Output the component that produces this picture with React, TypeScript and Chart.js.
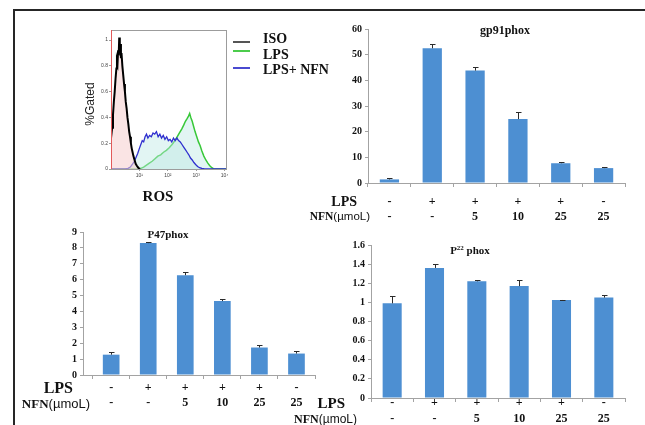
import React, { useEffect, useRef } from 'react';
import { Chart, registerables } from 'chart.js';
Chart.register(...registerables);

// ---------- data ----------
const lpsRow = ['-', '+', '+', '+', '+', '-'];
const nfnRow = ['-', '-', '5', '10', '25', '25'];

const gp91Values = [1.4, 52.5, 43.8, 24.9, 7.7, 5.8];
const gp91Errors = [0.5, 1.6, 1.3, 2.6, 0.4, 0.3];
const p47Values = [1.28, 8.3, 6.28, 4.65, 1.73, 1.35];
const p47Errors = [0.14, 0.08, 0.2, 0.14, 0.14, 0.17];
const p22Values = [0.99, 1.36, 1.22, 1.17, 1.025, 1.05];
const p22Errors = [0.08, 0.04, 0.015, 0.06, 0.005, 0.025];

const histSeries = ['ISO', 'LPS', 'LPS+ NFN'];
const histXTicks = [1, 2, 3, 4];
const histXTickLabels = ['10¹', '10²', '10³', '10⁴'];
const histYTicks = [0, 0.2, 0.4, 0.6, 0.8, 1];

// log10(ROS) and %Gated for each curve
const isoLog = [0.0, 0.04, 0.07, 0.1, 0.13, 0.16, 0.19, 0.21, 0.23, 0.25, 0.27, 0.29, 0.31, 0.33, 0.35, 0.37, 0.4, 0.43, 0.46, 0.49, 0.52, 0.55, 0.58, 0.61, 0.64, 0.67, 0.7, 0.73, 0.76, 0.79, 0.83, 0.87, 0.91, 0.96, 1.02];
const isoGated = [0.24, 0.32, 0.42, 0.52, 0.6, 0.7, 0.78, 0.84, 0.82, 0.92, 0.88, 1.02, 0.93, 0.97, 0.86, 0.9, 0.8, 0.73, 0.66, 0.6, 0.52, 0.47, 0.4, 0.35, 0.29, 0.25, 0.2, 0.16, 0.13, 0.1, 0.07, 0.04, 0.025, 0.01, 0.0];

const lpsLog = [0.0, 0.95, 1.05, 1.15, 1.25, 1.35, 1.45, 1.55, 1.65, 1.75, 1.85, 1.95, 2.05, 2.15, 2.25, 2.33, 2.41, 2.49, 2.56, 2.62, 2.68, 2.73, 2.77, 2.81, 2.86, 2.91, 2.96, 3.02, 3.08, 3.14, 3.2, 3.27, 3.34, 3.41, 3.48, 3.55, 3.62, 4.05];
const lpsGated = [0.0, 0.0, 0.005, 0.015, 0.03, 0.045, 0.06, 0.08, 0.1, 0.11, 0.13, 0.145, 0.165, 0.19, 0.22, 0.25, 0.28, 0.31, 0.34, 0.37, 0.39, 0.41, 0.43, 0.4, 0.37, 0.33, 0.29, 0.25, 0.21, 0.18, 0.14, 0.1, 0.07, 0.045, 0.025, 0.01, 0.0, 0.0];

const nfnLog = [0.0, 0.5, 0.6, 0.68, 0.75, 0.82, 0.88, 0.94, 1.0, 1.05, 1.1, 1.15, 1.2, 1.25, 1.3, 1.36, 1.42, 1.48, 1.54, 1.6, 1.66, 1.72, 1.78, 1.84, 1.9, 1.96, 2.02, 2.08, 2.14, 2.2, 2.26, 2.32, 2.38, 2.44, 2.5, 2.56, 2.62, 2.68, 2.74, 2.8, 2.86, 2.92, 2.98, 3.05, 3.12, 3.2, 3.3, 4.05];
const nfnGated = [0.0, 0.0, 0.005, 0.015, 0.035, 0.06, 0.09, 0.12, 0.16, 0.19, 0.22, 0.21, 0.25, 0.27, 0.24, 0.26, 0.25, 0.28, 0.27, 0.29, 0.25, 0.27, 0.24, 0.26, 0.23, 0.25, 0.22, 0.23, 0.21, 0.24, 0.22, 0.24, 0.22, 0.21, 0.19, 0.17, 0.15, 0.13, 0.11, 0.085, 0.07, 0.05, 0.035, 0.02, 0.01, 0.004, 0.0, 0.0];

// ---------- styles ----------
const SERIF = "'Liberation Serif', 'Times New Roman', serif";
const SANS = "'Liberation Sans', Arial, sans-serif";
const BAR = '#4d8fd2';
const AXIS = '#a3a3a3';

const fmt = (v: any) => String(Math.round(Number(v) * 100) / 100);

function fixY(width: number) {
  return (s: any) => {
    s.width = width;
    s.paddingTop = 0; s.paddingBottom = 0; s.paddingLeft = 0; s.paddingRight = 0;
  };
}
function fixX(height: number) {
  return (s: any) => {
    s.height = height;
    s.paddingTop = 0; s.paddingBottom = 0; s.paddingLeft = 0; s.paddingRight = 0;
  };
}

type Box = { left: number; top: number; width: number; height: number };

type BarProps = {
  values: number[]; errors: number[]; yMax: number; yStep: number; xMin: number;
  box: Box; padTop: number; padRight: number; yWidth: number; xHeight: number;
  tickPad: number; lineH: number;
};

function BarPanel(p: BarProps) {
  const ref = useRef<HTMLCanvasElement>(null);
  useEffect(() => {
    const errPlugin = {
      id: 'errbars',
      afterDatasetsDraw(chart: any) {
        const ctx = chart.ctx;
        const meta = chart.getDatasetMeta(0);
        const ys = chart.scales.y;
        ctx.save();
        ctx.strokeStyle = '#2b2b2b';
        ctx.lineWidth = 1;
        meta.data.forEach((bar: any, i: number) => {
          const x = Math.round(bar.x) + 0.5;
          const yTop = Math.round(ys.getPixelForValue(p.values[i] + p.errors[i])) + 0.5;
          ctx.beginPath();
          ctx.moveTo(x, bar.y);
          ctx.lineTo(x, yTop);
          ctx.moveTo(x - 2.5, yTop);
          ctx.lineTo(x + 3, yTop);
          ctx.stroke();
        });
        ctx.restore();
      },
    };
    const chart = new Chart(ref.current as HTMLCanvasElement, {
      type: 'bar',
      data: {
        datasets: [{
          data: p.values.map((v, i) => ({ x: i, y: v })),
          backgroundColor: BAR,
          borderWidth: 0,
          barPercentage: 0.45,
          categoryPercentage: 1,
        }],
      },
      options: {
        responsive: false,
        animation: false,
        devicePixelRatio: 1,
        layout: { padding: { top: p.padTop, right: p.padRight, left: 0, bottom: 0 } },
        plugins: { legend: { display: false }, tooltip: { enabled: false } },
        scales: {
          x: {
            type: 'linear',
            offset: false,
            min: p.xMin,
            max: 5.5,
            afterBuildTicks: (s: any) => { s.ticks = lpsRow.map((_, i) => ({ value: i })); },
            ticks: {
              autoSkip: false, maxRotation: 0, minRotation: 0,
              padding: p.tickPad, color: '#111',
              font: { family: SERIF, weight: 'bold', size: 12, lineHeight: p.lineH },
              callback: (v: any) => [lpsRow[Number(v)], nfnRow[Number(v)]],
            },
            grid: { offset: true, drawOnChartArea: false, tickLength: 4, color: AXIS },
            border: { color: AXIS },
            afterFit: fixX(p.xHeight),
          },
          y: {
            min: 0,
            max: p.yMax,
            ticks: { stepSize: p.yStep, padding: 3, color: '#111', font: { family: SERIF, weight: 'bold', size: 10 }, callback: fmt },
            grid: { drawOnChartArea: false, tickLength: 3, color: AXIS },
            border: { color: AXIS },
            afterFit: fixY(p.yWidth),
          },
        },
      } as any,
      plugins: [errPlugin],
    });
    return () => chart.destroy();
  }, []);
  return (
    <canvas ref={ref} width={p.box.width} height={p.box.height}
      style={{ position: 'absolute', left: p.box.left, top: p.box.top, width: p.box.width, height: p.box.height }} />
  );
}

function Histogram() {
  const ref = useRef<HTMLCanvasElement>(null);
  useEffect(() => {
    const boxPlugin = {
      id: 'plotbox',
      afterDraw(chart: any) {
        const { left, top, right, bottom } = chart.chartArea;
        const ctx = chart.ctx;
        ctx.save();
        ctx.strokeStyle = '#9c9c9c';
        ctx.lineWidth = 1;
        ctx.strokeRect(Math.round(left) + 0.5, Math.round(top) + 0.5, Math.round(right - left), Math.round(bottom - top));
        ctx.strokeStyle = '#e25a5a';
        ctx.beginPath();
        ctx.moveTo(Math.round(left) + 0.5, top);
        ctx.lineTo(Math.round(left) + 0.5, bottom);
        ctx.stroke();
        ctx.restore();
      },
    };
    const zip = (xs: number[], ys: number[]) => xs.map((x, i) => ({ x, y: ys[i] }));
    const chart = new Chart(ref.current as HTMLCanvasElement, {
      type: 'line',
      data: {
        datasets: [
          { label: histSeries[0], data: zip(isoLog, isoGated), borderColor: '#000', borderWidth: 2, backgroundColor: 'rgba(246,205,205,0.55)', fill: 'origin', pointRadius: 0, tension: 0 },
          { label: histSeries[2], data: zip(nfnLog, nfnGated), borderColor: '#2f2fcf', borderWidth: 1.3, backgroundColor: 'rgba(190,232,228,0.45)', fill: 'origin', pointRadius: 0, tension: 0 },
          { label: histSeries[1], data: zip(lpsLog, lpsGated), borderColor: '#38c838', borderWidth: 1.5, backgroundColor: 'rgba(190,232,228,0.45)', fill: 'origin', pointRadius: 0, tension: 0 },
        ],
      },
      options: {
        responsive: false,
        animation: false,
        devicePixelRatio: 1,
        layout: { padding: { top: 10, right: 9, left: 0, bottom: 0 } },
        plugins: { legend: { display: false }, tooltip: { enabled: false } },
        scales: {
          x: {
            type: 'linear', min: 0, max: 4.05,
            afterBuildTicks: (s: any) => { s.ticks = histXTicks.map((v) => ({ value: v })); },
            ticks: {
              padding: 2, color: '#444', maxRotation: 0, autoSkip: false,
              font: { family: SANS, size: 5 },
              callback: (v: any) => histXTickLabels[histXTicks.indexOf(Number(v))],
            },
            grid: { drawOnChartArea: false, tickLength: 2, color: '#9c9c9c' },
            border: { color: '#9c9c9c' },
            afterFit: fixX(21),
          },
          y: {
            min: 0, max: 1.078,
            afterBuildTicks: (s: any) => { s.ticks = histYTicks.map((v) => ({ value: v })); },
            ticks: { padding: 1, color: '#444', font: { family: SANS, size: 5 }, callback: fmt },
            grid: { drawOnChartArea: false, tickLength: 2, color: '#9c9c9c' },
            border: { color: '#9c9c9c' },
            afterFit: fixY(16),
          },
        },
      } as any,
      plugins: [boxPlugin],
    });
    return () => chart.destroy();
  }, []);
  return (
    <canvas ref={ref} width={140} height={170}
      style={{ position: 'absolute', left: 95, top: 20, width: 140, height: 170 }} />
  );
}

function Txt(props: { x: number; y: number; size: number; children: any; align?: 'center' | 'right'; family?: string; weight?: string }) {
  const { x, y, size, align = 'center', family = SERIF, weight = 'bold' } = props;
  const style: any = {
    position: 'absolute', top: y, fontFamily: family, fontWeight: weight, fontSize: size,
    lineHeight: 1, whiteSpace: 'nowrap', color: '#111',
  };
  if (align === 'center') { style.left = x; style.transform = 'translate(-50%, -50%)'; }
  else { style.right = 645 - x; style.transform = 'translateY(-50%)'; }
  return <div style={style}>{props.children}</div>;
}

function NfnLabel(props: { x: number; y: number; size: number }) {
  return (
    <Txt x={props.x} y={props.y} size={props.size} align="right">
      NFN<span style={{ fontFamily: SANS, fontWeight: 'normal' }}>(µmoL)</span>
    </Txt>
  );
}

const legendColors = ['#555555', '#4ccc4c', '#4a4ad0'];
const legendTextY = [39, 55, 70];
const legendLineY = [41, 50, 67];

export default function App() {
  return (
    <div style={{ position: 'fixed', left: 0, top: 0, width: 645, height: 425, background: '#fff', overflow: 'hidden' }}>
      <div style={{ position: 'absolute', left: 13, top: 9, width: 700, height: 500, border: '2px solid #262626', boxSizing: 'border-box' }} />

      <Histogram />
      <div style={{ position: 'absolute', left: 90, top: 104, transform: 'translate(-50%, -50%) rotate(-90deg)', fontFamily: SANS, fontSize: 12, color: '#222', whiteSpace: 'nowrap' }}>%Gated</div>
      <Txt x={158} y={196} size={15}>ROS</Txt>
      {histSeries.map((s, i) => (
        <React.Fragment key={s}>
          <div style={{ position: 'absolute', left: 233, top: legendLineY[i], width: 17, height: 1.5, background: legendColors[i] }} />
          <div style={{ position: 'absolute', left: 263, top: legendTextY[i], transform: 'translateY(-50%)', fontFamily: SERIF, fontWeight: 'bold', fontSize: 14, lineHeight: 1, color: '#111', whiteSpace: 'nowrap' }}>{s}</div>
        </React.Fragment>
      ))}

      <BarPanel values={gp91Values} errors={gp91Errors} yMax={60} yStep={10} xMin={-0.5}
        box={{ left: 320, top: 15, width: 310, height: 215 }} padTop={14} padRight={5}
        yWidth={48} xHeight={47} tickPad={7.5} lineH={1.25} />
      <Txt x={505} y={30} size={12}>gp91phox</Txt>
      <Txt x={357} y={202} size={14} align="right">LPS</Txt>
      <NfnLabel x={370} y={217} size={11.5} />

      <BarPanel values={p47Values} errors={p47Errors} yMax={9} yStep={1} xMin={-0.76}
        box={{ left: 20, top: 222, width: 300, height: 200 }} padTop={10} padRight={5}
        yWidth={63} xHeight={47} tickPad={1.5} lineH={1.25} />
      <Txt x={168} y={234} size={11}>P47phox</Txt>
      <Txt x={73} y={388} size={16} align="right">LPS</Txt>
      <NfnLabel x={90} y={403} size={13} />

      <BarPanel values={p22Values} errors={p22Errors} yMax={1.6} yStep={0.2} xMin={-0.5}
        box={{ left: 330, top: 235, width: 300, height: 190 }} padTop={10} padRight={5}
        yWidth={41} xHeight={27} tickPad={-7} lineH={1.33} />
      <Txt x={470} y={250} size={11}>P<sup style={{ fontSize: 7, verticalAlign: 4 }}>22</sup> phox</Txt>
      <Txt x={345} y={403} size={15} align="right">LPS</Txt>
      <NfnLabel x={357} y={419} size={12} />
    </div>
  );
}
